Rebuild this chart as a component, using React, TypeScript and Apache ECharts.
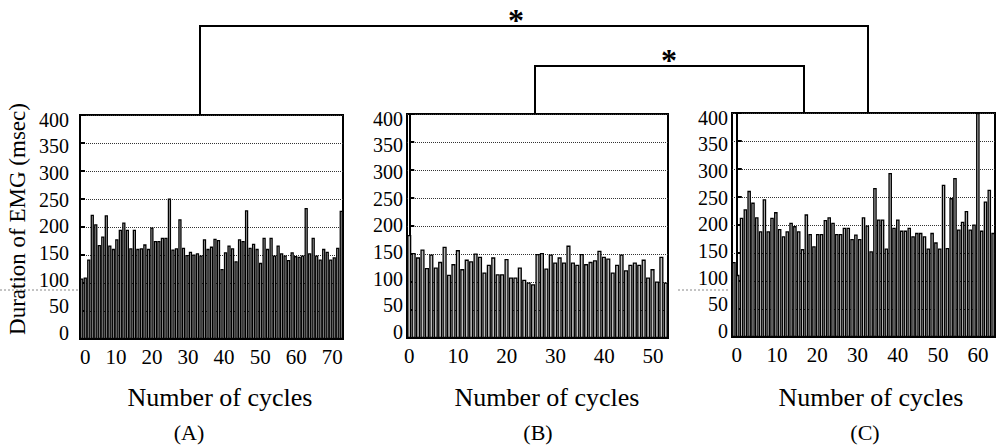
import React, { useEffect, useRef } from "react";
import * as echarts from "echarts";

// Duration of EMG (msec) per cycle
const VALUES_A = [
  108, 110, 142, 222, 205, 168, 183, 221, 167, 161, 178, 195, 208, 195, 162, 195, 161, 162, 169, 161,
  199, 175, 175, 181, 181, 251, 160, 162, 214, 163, 150, 156, 151, 153, 149, 178, 161, 165,
  179, 177, 125, 155, 167, 162, 139, 178, 175, 230, 163, 170, 161, 136, 181, 161, 181, 149, 167, 153,
  149, 141, 155, 148, 147, 149, 234, 153, 181, 149, 142, 161, 156, 142, 146, 163, 229,
];
const VALUES_B = [
  184, 152, 144, 158, 125, 149, 126, 136, 163, 113, 132, 157, 123, 140, 137, 151, 145, 117, 131, 144,
  114, 114, 141, 108, 108, 126, 104, 99, 96, 150,
  152, 124, 149, 135, 144, 135, 165, 135, 131, 150, 132, 136, 139, 156, 145, 142, 117, 131, 149, 121,
  131, 135, 131, 140, 108, 123, 101, 145, 99,
];
const VALUES_C = [
  134, 111, 213, 228, 261, 240, 214, 189, 246, 189, 213, 223, 193, 180, 189, 204, 198, 189, 157, 219,
  184, 162, 184, 184, 209, 214, 204, 184, 184, 195, 195, 175, 183, 175, 214,
  199, 153, 266, 210, 210, 158, 293, 195, 210, 190, 190, 195, 180, 186, 186, 180, 158, 186, 169, 158,
  272, 159, 248, 284, 192, 206, 225, 192, 201, 400, 190, 242, 263, 186,
];

const X_TICKS_A = [0, 10, 20, 30, 40, 50, 60, 70];
const X_TICKS_B = [0, 10, 20, 30, 40, 50];
const X_TICKS_C = [0, 10, 20, 30, 40, 50, 60];
const Y_TICKS = [0, 50, 100, 150, 200, 250, 300, 350, 400];

const PANEL_LETTERS = ["(A)", "(B)", "(C)"];
const X_TITLE = "Number of cycles";
const Y_TITLE = "Duration of EMG (msec)";

const FONT = "'Liberation Serif', 'Times New Roman', serif";

export default function App() {
  const ref = useRef<HTMLDivElement>(null);

  useEffect(() => {
    if (!ref.current) return;
    const chart = echarts.init(ref.current, undefined, { renderer: "svg" });

    const values = [VALUES_A, VALUES_B, VALUES_C];
    const xTicks = [X_TICKS_A, X_TICKS_B, X_TICKS_C];
    const grids = [
      { left: 80, top: 115, width: 263, height: 224 },
      { left: 407, top: 114, width: 261, height: 224 },
      { left: 732, top: 113, width: 263, height: 224 },
    ];
    const xMin = [0, -0.47, -1.2];
    const xMax = [73, 53.07, 64.2];
    const yLabelMargin = [11, 4, 4];

    const xAxis: any[] = [];
    const yAxis: any[] = [];
    const series: any[] = [];
    grids.forEach((_, i) => {
      xAxis.push({
        type: "category",
        gridIndex: i,
        position: "top",
        data: values[i].map((_v, k) => k + 1),
        show: false,
      });
      xAxis.push({
        type: "value",
        gridIndex: i,
        position: "bottom",
        min: xMin[i],
        max: xMax[i],
        axisLine: { show: true, onZero: false, lineStyle: { color: "#000", width: 2 } },
        axisTick: { show: false },
        splitLine: { show: false },
        axisLabel: {
          customValues: xTicks[i],
          color: "#000",
          fontFamily: FONT,
          fontSize: 21,
          margin: 7,
          alignMinLabel: i === 0 ? "left" : "center",
        },
      });
      // scale axis for the bars, grid lines and ticks
      yAxis.push({
        type: "value",
        gridIndex: i,
        position: "left",
        min: 0,
        max: 400,
        interval: 50,
        axisLine: { show: true, lineStyle: { color: "#000", width: 2 } },
        axisTick: { show: true, inside: true, length: 5, lineStyle: { color: "#000", width: 2 } },
        axisLabel: { show: false },
        splitLine: { show: true, lineStyle: { color: "#333", type: "dotted", width: 1 } },
      });
      // printed tick labels (slightly compressed in the original figure)
      yAxis.push({
        type: "value",
        gridIndex: i,
        position: "left",
        offset: 0,
        min: -11,
        max: 409,
        axisLine: { show: false },
        axisTick: { show: false },
        splitLine: { show: false },
        axisLabel: {
          customValues: Y_TICKS,
          color: "#000",
          fontFamily: FONT,
          fontSize: 20,
          margin: yLabelMargin[i],
        },
      });
      series.push({
        type: "bar",
        xAxisIndex: 2 * i,
        yAxisIndex: 2 * i,
        data: values[i],
        barCategoryGap: "6%",
        itemStyle: { color: "#bdbdbd", borderColor: "#000", borderWidth: 1.3 },
        silent: true,
      });
    });

    const textStyle = (extra: any) => ({
      fill: "#000",
      fontFamily: FONT,
      align: "center",
      verticalAlign: "middle",
      ...extra,
    });

    const titleX = [220, 547, 871];
    const letterX = [189, 538, 865];

    const graphic: any[] = [
      // significance brackets
      {
        type: "polyline",
        shape: { points: [[200, 115], [200, 26], [868, 26], [868, 113]] },
        style: { stroke: "#000", lineWidth: 2, fill: null },
        silent: true,
      },
      {
        type: "polyline",
        shape: { points: [[535, 114], [535, 66], [804, 66], [804, 113]] },
        style: { stroke: "#000", lineWidth: 2, fill: null },
        silent: true,
      },
      { type: "text", x: 516, y: 20, style: textStyle({ text: "*", fontSize: 32, fontWeight: "bold" }) },
      { type: "text", x: 669, y: 60, style: textStyle({ text: "*", fontSize: 32, fontWeight: "bold" }) },
      // y title
      {
        type: "text",
        x: 17,
        y: 219,
        rotation: Math.PI / 2,
        style: textStyle({ text: Y_TITLE, fontSize: 23 }),
      },
      // faint scan line
      {
        type: "line",
        shape: { x1: 0, y1: 290, x2: 78, y2: 290 },
        style: { stroke: "#888", lineWidth: 1, lineDash: [2, 2] },
        silent: true,
      },
      {
        type: "line",
        shape: { x1: 678, y1: 290, x2: 730, y2: 290 },
        style: { stroke: "#888", lineWidth: 1, lineDash: [2, 2] },
        silent: true,
      },
    ];
    PANEL_LETTERS.forEach((letter, i) => {
      graphic.push({ type: "text", x: titleX[i], y: 397, style: textStyle({ text: X_TITLE, fontSize: 26 }) });
      graphic.push({ type: "text", x: letterX[i], y: 432, style: textStyle({ text: letter, fontSize: 22 }) });
    });

    chart.setOption({
      animation: false,
      backgroundColor: "#fff",
      grid: grids.map((g) => ({
        ...g,
        show: true,
        borderColor: "#000",
        borderWidth: 2,
        backgroundColor: "transparent",
      })),
      xAxis,
      yAxis,
      series,
      graphic,
    });

    return () => chart.dispose();
  }, []);

  return (
    <div
      ref={ref}
      style={{ position: "fixed", left: 0, top: 0, width: 997, height: 448, background: "#fff" }}
    />
  );
}
